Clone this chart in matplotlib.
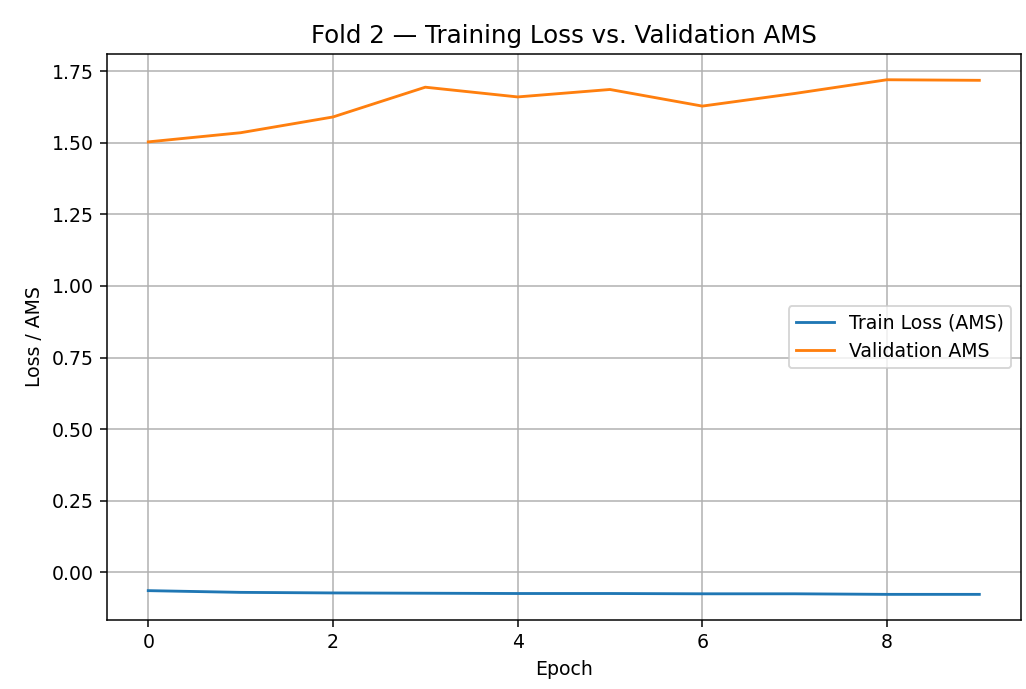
import numpy as np
import matplotlib
matplotlib.use("Agg")
import matplotlib.pyplot as plt

# Values
epochs = list(range(10))
train_loss = [-0.064, -0.070, -0.072, -0.073, -0.074, -0.074, -0.075, -0.075, -0.077, -0.077]
val_ams = [1.503, 1.535, 1.590, 1.694, 1.660, 1.686, 1.628, 1.672, 1.720, 1.718]

DPI = 136
fig, ax = plt.subplots(figsize=(1026 / DPI, 689 / DPI), dpi=DPI)
ax.plot(epochs, train_loss, label="Train Loss (AMS)")
ax.plot(epochs, val_ams, label="Validation AMS")

ax.set_xlabel("Epoch")
ax.set_ylabel("Loss / AMS")
ax.set_title("Fold 2 \u2014 Training Loss vs. Validation AMS", fontsize=13)
ax.legend(loc="center right")
ax.grid(True)

fig.subplots_adjust(left=0.104, right=0.995, top=0.9216, bottom=0.100)
fig.savefig("out.png", dpi=DPI)
